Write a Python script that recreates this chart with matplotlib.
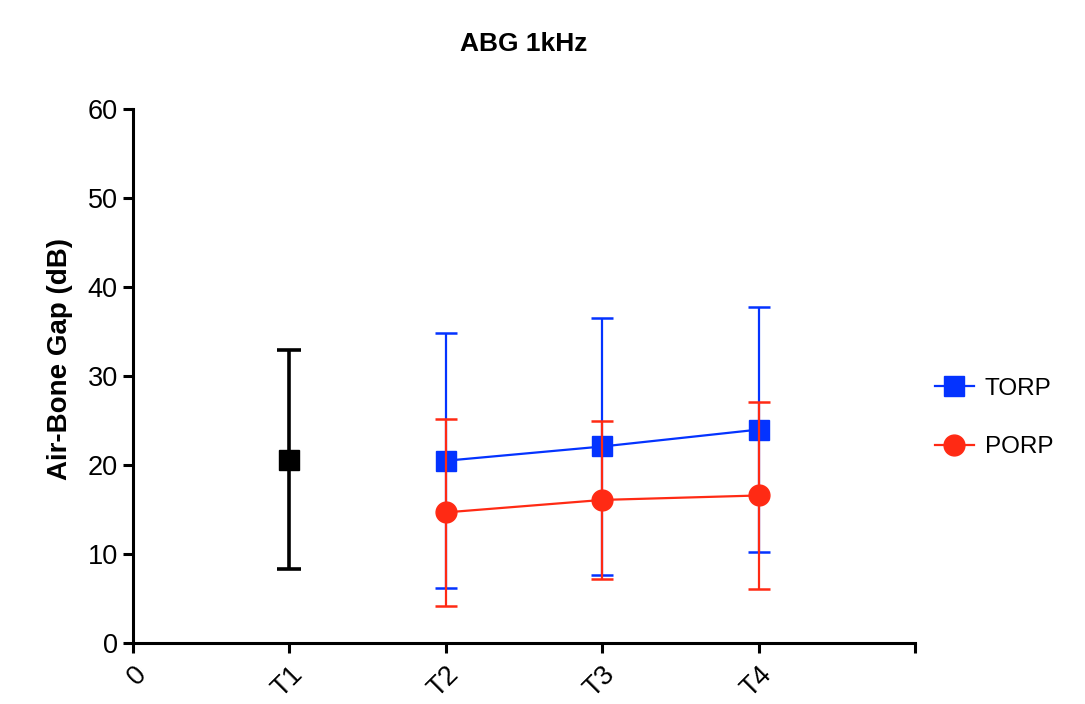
import matplotlib
matplotlib.use("Agg")
import matplotlib.pyplot as plt
from matplotlib.lines import Line2D

plt.rcParams['font.family'] = ['Liberation Sans', 'DejaVu Sans']

# Data
time_labels = ['0', 'T1', 'T2', 'T3', 'T4', '']
baseline_x = [1]
baseline_mean = [20.6]
baseline_sd = [12.3]

group_x = [2, 3, 4]
torp_mean = [20.5, 22.1, 24.0]
torp_sd = [14.3, 14.4, 13.8]
porp_mean = [14.7, 16.1, 16.6]
porp_sd = [10.5, 8.9, 10.5]

blue = '#0433FF'
red = '#FF2A14'

fig = plt.figure(figsize=(10.85, 7.04), dpi=100)
ax = fig.add_axes([133/1085, 1-643.3/704, (915-133)/1085, (643.3-109)/704])

ax.errorbar(baseline_x, baseline_mean, yerr=baseline_sd, fmt='s', color='black',
            markersize=15, elinewidth=2.6, capsize=8.3, capthick=2.6, zorder=3)
ax.errorbar(group_x, torp_mean, yerr=torp_sd, fmt='-s', color=blue,
            markersize=15, linewidth=1.6, elinewidth=1.6, capsize=8, capthick=1.8, zorder=3)
ax.errorbar(group_x, porp_mean, yerr=porp_sd, fmt='-o', color=red,
            markersize=15, linewidth=1.6, elinewidth=1.6, capsize=8, capthick=1.8, zorder=4)

ax.set_xlim(0, 5)
ax.set_ylim(0, 60)
ax.set_xticks(range(len(time_labels)))
ax.set_xticklabels(time_labels, rotation=45, ha='right', rotation_mode='anchor')
ax.set_yticks([0, 10, 20, 30, 40, 50, 60])

for s in ['top', 'right']:
    ax.spines[s].set_visible(False)
for s in ['left', 'bottom']:
    ax.spines[s].set_linewidth(2.2)
ax.tick_params(axis='both', width=2.2, length=7, labelsize=19.5, colors='black', pad=4)
ax.tick_params(axis='x', pad=6)

ax.set_ylabel('Air-Bone Gap (dB)', fontsize=20, fontweight='bold')
ax.yaxis.set_label_coords(-0.077, 0.532)
ax.set_title('ABG 1kHz', fontsize=19, fontweight='bold', pad=42)

handles = [Line2D([], [], color=blue, marker='s', markersize=15, linewidth=1.6),
           Line2D([], [], color=red, marker='o', markersize=15, linewidth=1.6)]
fig.legend(handles, ['TORP', 'PORP'], loc='center left',
           bbox_to_anchor=(913/1085, 1-418/704), frameon=False, fontsize=17.5,
           handlelength=1.6, handletextpad=0.45, labelspacing=1.5)

fig.savefig('out.png', dpi=100, facecolor='white')
